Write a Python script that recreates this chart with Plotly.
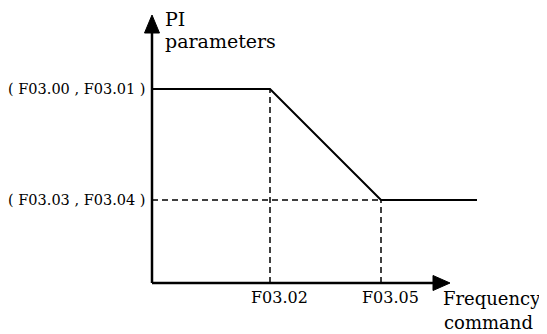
import plotly.graph_objects as go

# PI parameter curve vs frequency command (offsets from the origin)
freq = [0, 118, 229, 325]
param = [194, 194, 83, 83]

x_ticks = [118, 229]
x_labels = ['F03.02', 'F03.05']
y_ticks = [194, 83]
y_labels = ['( F03.00 , F03.01 )', '( F03.03 , F03.04 )']

FONT = 'DejaVu Serif'

fig = go.Figure()

# dashed guide lines
for xv, yv in zip(x_ticks, [param[1], param[2]]):
    fig.add_trace(go.Scatter(x=[xv, xv], y=[0, yv], mode='lines',
                             line=dict(color='black', width=1.5, dash='6px,4px'),
                             hoverinfo='skip', showlegend=False))
fig.add_trace(go.Scatter(x=[0, x_ticks[1]], y=[y_ticks[1], y_ticks[1]], mode='lines',
                         line=dict(color='black', width=1.5, dash='6px,4px'),
                         hoverinfo='skip', showlegend=False))

# main curve
fig.add_trace(go.Scatter(x=freq, y=param, mode='lines',
                         line=dict(color='black', width=2),
                         hoverinfo='skip', showlegend=False))

# axes with arrowheads
fig.add_shape(type='line', x0=0, y0=0, x1=0, y1=255, line=dict(color='black', width=2.5))
fig.add_shape(type='line', x0=0, y0=0, x1=285, y1=0, line=dict(color='black', width=2.5))
fig.add_shape(type='path', path='M -7.5,250 L 7.5,250 L 0,268 Z',
              fillcolor='black', line=dict(color='black', width=1))
fig.add_shape(type='path', path='M 281,7.5 L 281,-7.5 L 298,0 Z',
              fillcolor='black', line=dict(color='black', width=1))

# tick labels
for xv, lab in zip(x_ticks, x_labels):
    fig.add_annotation(x=xv + 9, y=-14, text=lab, showarrow=False,
                       xanchor='center', yanchor='middle',
                       font=dict(family=FONT, size=16, color='black'))
for yv, lab in zip(y_ticks, y_labels):
    fig.add_annotation(x=-4, y=yv, text=lab, showarrow=False,
                       xanchor='right', yanchor='middle',
                       font=dict(family=FONT, size=14.5, color='black'))

# axis titles
fig.add_annotation(x=11, y=264, text='PI', showarrow=False, xanchor='left', yanchor='middle',
                   font=dict(family=FONT, size=19, color='black'))
fig.add_annotation(x=11, y=242, text='parameters', showarrow=False, xanchor='left', yanchor='middle',
                   font=dict(family=FONT, size=19, color='black'))
fig.add_annotation(x=391, y=-15, text='Frequency', showarrow=False, xanchor='right', yanchor='middle',
                   font=dict(family=FONT, size=18, color='black'))
fig.add_annotation(x=383, y=-39, text='command', showarrow=False, xanchor='right', yanchor='middle',
                   font=dict(family=FONT, size=18, color='black'))

# page body adds an 8px margin, so the figure is 8px smaller than the window
fig.update_xaxes(range=[-144, 395], visible=False, fixedrange=True)
fig.update_yaxes(range=[-51, 275], visible=False, fixedrange=True)
fig.update_layout(width=539, height=326, margin=dict(l=0, r=0, t=0, b=0),
                  plot_bgcolor='white', paper_bgcolor='white')

fig.write_html("out.html")
